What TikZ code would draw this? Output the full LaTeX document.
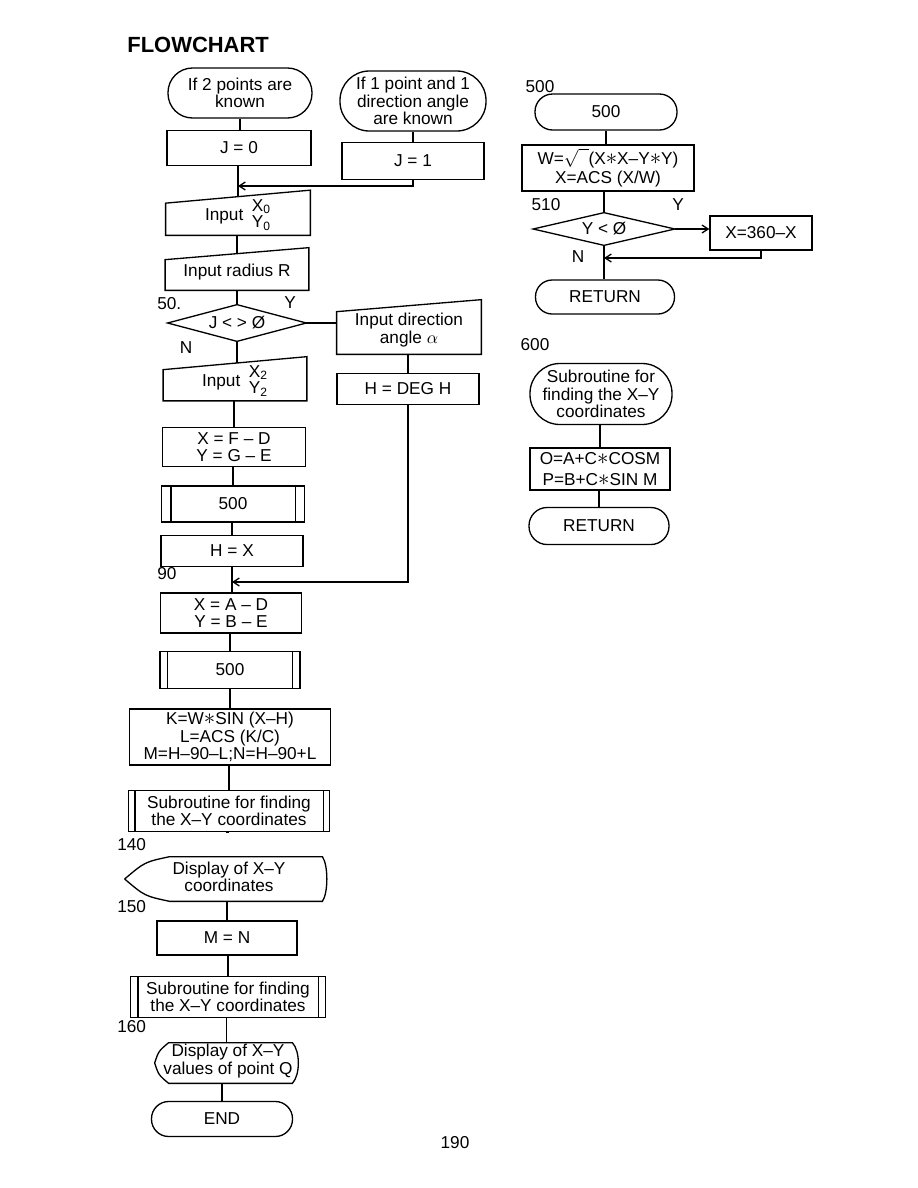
\documentclass[tikz,border=0pt]{standalone}
\usepackage{fontspec}
\setmainfont{Liberation Sans}
\usetikzlibrary{arrows.meta,calc}
\newcommand\manin[2]{\draw[ln] ($(#1.north west)+(0,#2)$) -- ($(#1.north east)+(0,-#2)$) -- (#1.south east) -- (#1.south west) -- cycle;}
\newcommand\diam[1]{\draw[ln] (#1.west) -- (#1.north) -- (#1.east) -- (#1.south) -- cycle;}
\newcommand\subr[2]{\draw[ln] ($(#1.north west)+(#2,0)$) -- ($(#1.south west)+(#2,0)$);
  \draw[ln] ($(#1.north east)+(-#2,0)$) -- ($(#1.south east)+(-#2,0)$);}
\newcommand\stx{\smash{\scalebox{1.3}{$\ast$}}}
\begin{document}
\begin{tikzpicture}[x=0.02cm,y=-0.02cm,
  every node/.style={font=\fontsize{9.8}{9.8}\selectfont, align=center, inner sep=0pt},
  ln/.style={line width=0.75pt},
  fr/.style 2 args={rectangle, minimum width={#1*0.02cm}, minimum height={#2*0.02cm}},
  proc/.style 2 args={draw, ln, rectangle, minimum width={#1*0.02cm}, minimum height={#2*0.02cm}},
  term/.style 2 args={draw, ln, rectangle, rounded corners={#2*0.0098cm}, minimum width={#1*0.02cm}, minimum height={#2*0.02cm}},
  arr/.style={ln, -{Straight Barb[length=3.5pt,width=4.5pt]}},
  lbl/.style={font=\fontsize{9.8}{9.8}\selectfont}
]
\useasboundingbox (0,0) rectangle (918,1188);

\node[font=\fontsize{12.5}{13}\selectfont\bfseries, anchor=west] (title) at (127,45) {FLOWCHART};

% ---------------- left column ----------------
\node[term={144}{50}] (t1) at (240,93) {If 2 points are\\known};
\node[term={146}{60}] (t2) at (413,101) {If 1 point and 1\\direction angle\\are known};
\node[proc={144}{35}] (j0) at (239,148) {J = 0};
\node[proc={142}{37}] (j1) at (413,161) {J = 1};
\coordinate (m1) at (238,186);

\node[fr={144}{38}] (in0) at (238,216) {Input\enspace{\renewcommand\arraystretch{0.9}\begin{tabular}{@{}l@{}}X\textsubscript{0}\\Y\textsubscript{0}\end{tabular}}};
\manin{in0}{6.5}
\node[fr={143}{36}] (inR) at (237,272) {Input radius R};
\manin{inR}{6}
\node[fr={138}{36}] (d50) at (237,323) {J < > Ø};
\diam{d50}
\node[lbl, anchor=west] (l50) at (157,304) {50.};
\node[lbl] (ly1) at (290,303) {Y};
\node[lbl] (ln1) at (186,348) {N};

\node[fr={144}{48}] (indir) at (409,330) {Input direction\\angle $\alpha$};
\manin{indir}{6}
\node[proc={142}{31}] (hdeg) at (408,389) {H = DEG H};
\coordinate (m2) at (232,582);

\node[fr={143}{37}] (in2) at (235,382) {Input\enspace{\renewcommand\arraystretch{0.9}\begin{tabular}{@{}l@{}}X\textsubscript{2}\\Y\textsubscript{2}\end{tabular}}};
\manin{in2}{6.5}
\node[proc={143}{39}] (xfd) at (234,447) {X = F -- D\\Y = G -- E};
\node[proc={143}{36}] (s500a) at (233,504) {500};
\subr{s500a}{10}
\node[proc={142}{31}] (hx) at (232,551) {H = X};
\node[lbl, anchor=west] (l90) at (157,574) {90};
\node[proc={141}{40}] (xad) at (231,613) {X = A -- D\\Y = B -- E};
\node[proc={140}{37}] (s500b) at (230,670) {500};
\subr{s500b}{8}
\node[proc={201}{56}] (kw) at (230,737) {K=W\stx SIN (X--H)\\L=ACS (K/C)\\M=H--90--L;N=H--90+L};
\node[proc={201}{41}] (sub1) at (229,811) {Subroutine for finding\\the X--Y coordinates};
\subr{sub1}{7}
\node[lbl, anchor=west] (l140) at (117,845) {140};
\node[fr={202}{44}] (disp1) at (226,879) {};
\draw[ln] (disp1.west) .. controls ($(disp1.west)+(20,-17)$) .. ($(disp1.north west)+(45,0)$)
  -- ($(disp1.north east)+(-5,0)$) .. controls ($(disp1.east)+(1,-14)$) and ($(disp1.east)+(1,14)$) .. ($(disp1.south east)+(-5,0)$)
  -- ($(disp1.south west)+(45,0)$) .. controls ($(disp1.west)+(20,17)$) .. (disp1.west);
\node (disp1t) at (229,877) {Display of X--Y\\coordinates};
\node[lbl, anchor=west] (l150) at (117,907) {150};
\node[proc={140}{34}] (mn) at (227,938) {M = N};
\node[proc={195}{41}] (sub2) at (228,997) {Subroutine for finding\\the X--Y coordinates};
\subr{sub2}{8}
\node[lbl, anchor=west] (l160) at (117,1027) {160};
\node[fr={143}{40}] (disp2) at (226.5,1063) {};
\draw[ln] (disp2.west) .. controls ($(disp2.west)+(4,-12)$) .. ($(disp2.north west)+(14,0)$)
  -- ($(disp2.north east)+(-6,0)$) .. controls ($(disp2.east)+(2,-12)$) and ($(disp2.east)+(2,12)$) .. ($(disp2.south east)+(-6,0)$)
  -- ($(disp2.south west)+(14,0)$) .. controls ($(disp2.west)+(4,12)$) .. (disp2.west);
\node (disp2t) at (228,1061) {Display of X--Y\\values of point Q};
\node[term={141}{35}] (endt) at (222,1119) {END};

% connectors left
\draw[ln] (t1.south) -- (t1.south |- j0.north);
\draw[ln] (t2.south) -- (t2.south |- j1.north);
\draw[line width=1.2pt] (m1 |- j0.south) -- (m1 |- in0.north);
\draw[arr] (j1.south) |- (m1);
\draw[ln] (in0.south -| inR.north) -- (inR.north);
\draw[ln] (inR.south -| d50.north) -- (d50.north);
\draw[ln] (d50.east) -- (d50.east -| indir.west);
\draw[ln] (indir.south -| hdeg.north) -- (hdeg.north);
\draw[arr] (hdeg.south) |- (m2);
\draw[ln] (d50.south) -- (d50.south |- in2.north);
\draw[ln] (in2.south -| xfd.north) -- (xfd.north);
\draw[ln] (xfd.south -| s500a.north) -- (s500a.north);
\draw[ln] (s500a.south -| hx.north) -- (hx.north);
\draw[ln] (hx.south) -- (hx.south |- xad.north);
\draw[ln] (xad.south -| s500b.north) -- (s500b.north);
\draw[ln] (s500b.south -| kw.north) -- (kw.north);
\draw[ln] (kw.south -| sub1.north) -- (sub1.north);
\draw[ln] (sub1.south -| disp1t.north) -- (sub1.south -| disp1.north);
\draw[ln] (disp1.south -| mn.north) -- (mn.north);
\draw[ln] (mn.south -| sub2.north) -- (sub2.north);
\draw[ln] (sub2.south -| disp2.north) -- (disp2.north);
\draw[ln] (disp2.south -| endt.north) -- (endt.north);

% ---------------- right column ----------------
\node[lbl] (l500) at (540,87) {500};
\node[term={142}{36}] (t500) at (606,112) {500};
\node[proc={172}{46}] (wbox) at (608,168) {W=$\sqrt{\vphantom{X}\hphantom{x}}$(X\stx X--Y\stx Y)\\[1pt]X=ACS (X/W)};
\node[lbl] (l510) at (546,205) {510};
\node[lbl] (ly2) at (678,205) {Y};
\node[fr={141}{32}] (d510) at (604,229) {Y < Ø};
\diam{d510}
\node[proc={102}{34}] (x360) at (761,233) {X=360--X};
\node[lbl] (ln2) at (578,257) {N};
\coordinate (m3) at (604,258);
\node[term={139}{34}] (ret1) at (605,297) {RETURN};

\node[lbl] (l600) at (535,345) {600};
\node[term={142}{61}] (t600) at (601,394) {Subroutine for\\finding the X--Y\\coordinates};
\node[proc={140}{42}] (obox) at (600,469) {O=A+C\stx COSM\\[2.5pt]P=B+C\stx SIN M};
\node[term={140}{37}] (ret2) at (599,526) {RETURN};

\draw[ln] (t500.south) -- (t500.south |- wbox.north);
\draw[ln] (wbox.south -| d510.north) -- (d510.north);
\draw[arr] (d510.east) -- (d510.east -| x360.west);
\draw[arr] (x360.south) |- (m3);
\draw[ln] (d510.south) -- (d510.south |- ret1.north);
\draw[ln] (t600.south -| obox.north) -- (obox.north);
\draw[ln] (obox.south -| ret2.north) -- (ret2.north);

\node[lbl] (page) at (455,1143) {190};
\end{tikzpicture}
\end{document}
